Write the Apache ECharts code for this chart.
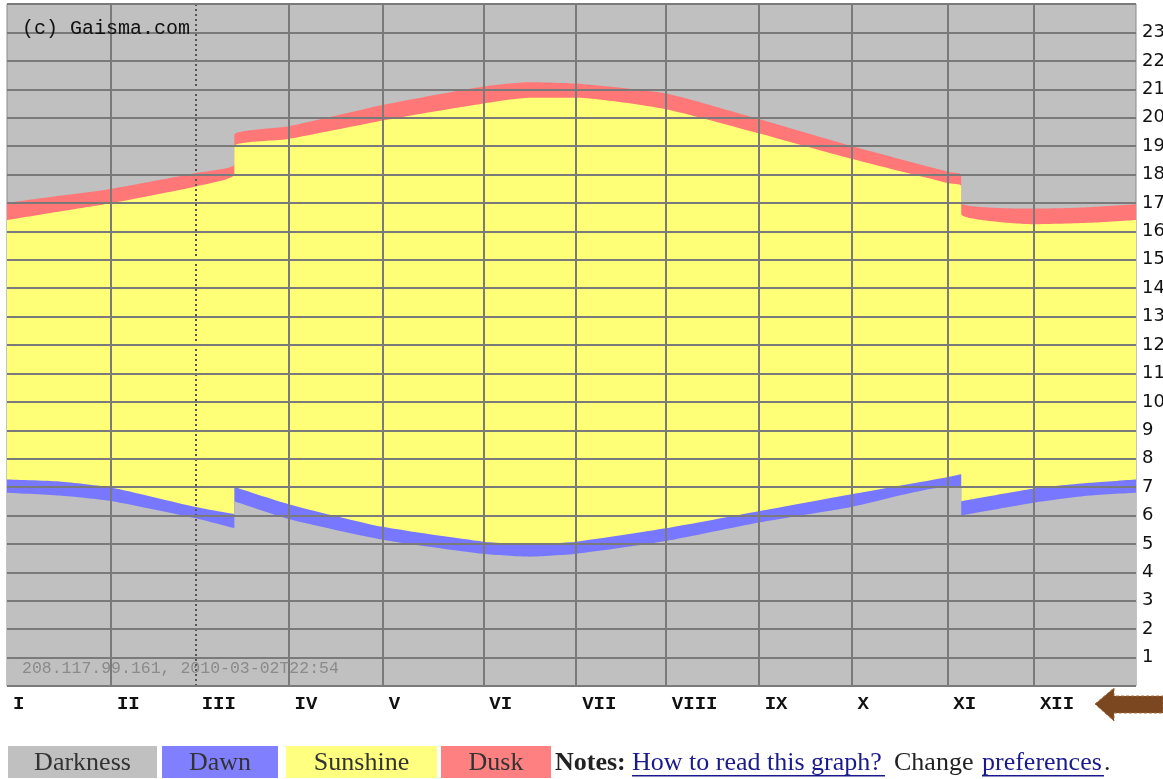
<!DOCTYPE html>
<html>
<head>
<meta charset="utf-8">
<title>Gaisma sunrise / sunset</title>
<script src="https://cdn.jsdelivr.net/npm/echarts@6/dist/echarts.min.js"></script>
<style>
    html, body { margin: 0; padding: 0; background: #fff; }
    #main { width: 1163px; height: 779px; }
</style>
</head>
<body>
<div id="main"></div>
<script>
// 读图得到的数据 (day of year -> hour of day)
// DST jumps are given as two points on the same day
var days      = [0, 17, 34, 61, 73.5, 73.5, 91, 121.5, 154, 169, 184, 213, 243, 273, 304, 308.5, 308.5, 332, 350, 365];
var dawnStart = [6.8, 6.7, 6.5, 5.9, 5.55, 6.5, 5.88, 5.15, 4.65, 4.55, 4.65, 5.1, 5.75, 6.3, 7.0, 7.0, 6.0, 6.45, 6.7, 6.8];
var sunrise   = [7.27, 7.2, 6.98, 6.3, 6.05, 7.0, 6.4, 5.6, 5.08, 5.0, 5.08, 5.55, 6.15, 6.75, 7.35, 7.45, 6.5, 6.95, 7.15, 7.27];
var sunset    = [16.4, 16.7, 17.0, 17.58, 18.0, 19.0, 19.25, 19.9, 20.5, 20.7, 20.7, 20.3, 19.45, 18.55, 17.7, 17.6, 16.6, 16.25, 16.3, 16.4];
var duskEnd   = [17.0, 17.25, 17.5, 18.05, 18.35, 19.4, 19.7, 20.45, 21.1, 21.25, 21.2, 20.85, 19.95, 19.0, 18.1, 18.0, 17.0, 16.8, 16.85, 16.95];

// month labels and where they start on the picture
var monthNames = ['I', 'II', 'III', 'IV', 'V', 'VI', 'VII', 'VIII', 'IX', 'X', 'XI', 'XII'];
var monthStart = [0, 33.6, 61, 91, 121.5, 154, 184, 213, 243, 273, 304, 332];
var todayDay = 61;   // dotted line (2010-03-02)

var pairs = function (xs, ys) {
    var data = [];
    for (let i in xs) {
        data.push([xs[i], ys[i]]);
    }
    return data;
};

var areaSeries = function (name, color, values) {
    return {
        name: name,
        type: 'line',
        data: pairs(days, values),
        showSymbol: false,
        symbol: 'none',
        smooth: 0.2,
        lineStyle: { width: 0 },
        areaStyle: { color: color, opacity: 1, origin: 'start' },
        silent: true
    };
};

var FONT = '26px "Liberation Serif"';

var legendBox = function (x, w, color, label) {
    return [
        { type: 'rect', shape: { x: x, y: 746, width: w, height: 32 }, style: { fill: color } },
        {
            type: 'text', x: x + w / 2, y: 763,
            style: { text: label, fill: '#333', font: FONT, align: 'center', verticalAlign: 'middle' }
        }
    ];
};

var textAt = function (x, str, color, bold) {
    return [{
        type: 'text', x: x, y: 763,
        style: {
            text: str, fill: color,
            font: (bold ? 'bold ' : '') + FONT,
            verticalAlign: 'middle'
        }
    }];
};

var my_chart = echarts.init(document.getElementById('main'));

var graphics = []
    .concat(legendBox(8, 149, '#c0c0c0', 'Darkness'))
    .concat(legendBox(162, 116, '#8080ff', 'Dawn'))
    .concat(legendBox(286, 151, '#ffff80', 'Sunshine'))
    .concat(legendBox(441, 110, '#ff8080', 'Dusk'))
    .concat(textAt(555, 'Notes:', '#222', true))
    .concat(textAt(632, 'How to read this graph?', '#1a1a8c'))
    .concat(textAt(894, 'Change', '#222'))
    .concat(textAt(982, 'preferences', '#1a1a8c'))
    .concat(textAt(1104, '.', '#222'));

// underline the links
graphics.push({ type: 'rect', shape: { x: 632, y: 775, width: 253, height: 1.5 }, style: { fill: '#1a1a8c' } });
graphics.push({ type: 'rect', shape: { x: 982, y: 775, width: 122, height: 1.5 }, style: { fill: '#1a1a8c' } });

// copyright and stamp text inside the plot
graphics.push({
    type: 'text', left: 22, top: 19, z: 20,
    style: { text: '(c) Gaisma.com', fill: '#111', font: '20px "Liberation Mono"' }
});
graphics.push({
    type: 'text', left: 22, top: 660, z: 20,
    style: { text: '208.117.99.161, 2010-03-02T22:54', fill: '#8a8a8a', font: '16.5px "Liberation Mono"' }
});

// brown arrow at the right of the month labels
graphics.push({
    type: 'polygon',
    shape: { points: [[1095, 704], [1114, 688], [1114, 696], [1163, 696], [1163, 713], [1114, 713], [1114, 721]] },
    style: { fill: '#7a4720', stroke: '#a86a3c', lineWidth: 1, lineDash: [3, 2] }
});

var option = {
    animation: false,
    grid: {
        left: 7, right: 27, top: 4, bottom: 93,
        outerBoundsMode: 'none',
        show: true,
        backgroundColor: '#c0c0c0',
        borderColor: '#8a8a8a',
        borderWidth: 1
    },
    xAxis: {
        type: 'value',
        min: 0,
        max: 365,
        z: 10,
        axisLine: { show: false },
        axisTick: { show: false, customValues: monthStart.filter(function (d) { return d !== todayDay && d !== 0; }) },
        splitLine: { show: true, lineStyle: { color: '#7a7a7a', width: 2 } },
        axisLabel: {
            customValues: monthStart,
            margin: 9,
            align: 'left',
            padding: [0, 0, 0, 6],
            color: '#111',
            fontFamily: 'Liberation Mono',
            fontWeight: 'bold',
            fontSize: 19,
            formatter: function (value) {
                return monthNames[monthStart.indexOf(value)];
            }
        }
    },
    yAxis: {
        type: 'value',
        position: 'right',
        min: 0,
        max: 24,
        interval: 1,
        z: 10,
        axisLine: { show: false },
        axisTick: { show: false },
        splitLine: { show: true, lineStyle: { color: '#7a7a7a', width: 2 } },
        axisLabel: {
            margin: 6,
            color: '#111',
            fontFamily: 'DejaVu Sans',
            fontSize: 18,
            formatter: function (v) {
                return (v === 0 || v === 24) ? '' : String(v);
            }
        }
    },
    series: [
        areaSeries('Dusk', '#ff7777', duskEnd),
        areaSeries('Sunshine', '#ffff77', sunset),
        areaSeries('Dawn', '#7777ff', sunrise),
        Object.assign(areaSeries('Darkness', '#c0c0c0', dawnStart), {
            markLine: {
                silent: true,
                symbol: 'none',
                label: { show: false },
                lineStyle: { color: '#555', width: 2, type: [2, 3] },
                data: [{ xAxis: todayDay }]
            }
        })
    ],
    graphic: graphics
};

my_chart.setOption(option);
</script>
</body>
</html>
